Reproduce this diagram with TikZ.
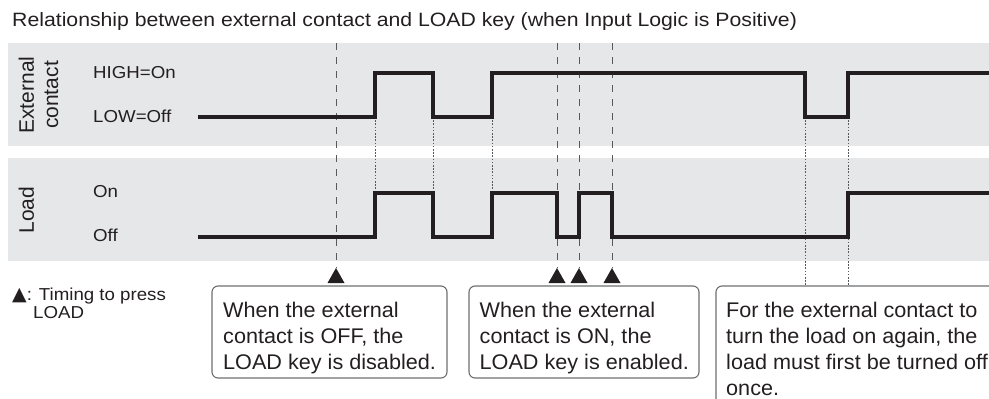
\documentclass[tikz,border=0pt]{standalone}
\usepackage{fontspec}
\setmainfont{Liberation Sans}
\newfontfamily\titlefam{Liberation Sans}[FakeStretch=1.1]
\newfontfamily\boxfam{Liberation Sans}[FakeStretch=1.02]
\newfontfamily\labfam{Liberation Sans}[FakeStretch=1.08]
\newfontfamily\symfam{DejaVu Sans}
\definecolor{bandgray}{HTML}{E6E7E8}
\definecolor{sigcol}{HTML}{231F20}
\definecolor{guidecol}{HTML}{58595B}
\definecolor{boxline}{HTML}{6D6E71}
\tikzset{
  band/.style={fill=bandgray, draw=none},
  signal/.style={draw=sigcol, line width=4.2pt, line join=miter},
  guidedash/.style={draw=guidecol, line width=0.9pt, dash pattern=on 7pt off 7pt},
  guidedot/.style={draw=guidecol, line width=0.9pt, dash pattern=on 1.6pt off 1.6pt},
  pressmark/.style={fill=sigcol, draw=none},
  notebox/.style={draw=boxline, line width=1.1pt, rounded corners=6pt},
  titletext/.style={anchor=base west, inner sep=0pt, font=\titlefam\fontsize{19.3}{23}\selectfont, text=sigcol},
  boxtext/.style={anchor=base west, inner sep=0pt, font=\boxfam\fontsize{21.2}{25}\selectfont, text=sigcol},
  levtext/.style={anchor=base west, inner sep=0pt, font=\labfam\fontsize{17.3}{20}\selectfont, text=sigcol},
  rottext/.style={anchor=base, inner sep=0pt, rotate=90, font=\fontsize{21}{24}\selectfont, text=sigcol}
}
\begin{document}
\begin{tikzpicture}[x=1pt,y=-1pt]
\useasboundingbox (0,0) rectangle (989,399);
% title
\node[titletext] (title) at (12,26.7) {Relationship between external contact and LOAD key (when Input Logic is Positive)};
% bands
\fill[band] (8,43) rectangle (989,146);
\fill[band] (8,158) rectangle (989,261);
% row labels
\node[rottext] (lext) at (34,95) {External};
\node[rottext] (lcon) at (58,95) {contact};
\node[rottext] (lload) at (34,210) {Load};
\node[levtext] (lhigh) at (93,78.5) {HIGH=On};
\node[levtext] (llow) at (93,122.5) {LOW=Off};
\node[levtext] (lon) at (93,197.5) {On};
\node[levtext] (loff) at (93,241) {Off};
% guide lines
\foreach \x in {336,557,579,612} \draw[guidedash] (\x,43) -- (\x,268);
\foreach \x in {375,433,492} \draw[guidedot] (\x,117) -- (\x,193);
\foreach \x in {805,848} \draw[guidedot] (\x,117) -- (\x,286);
% signals
\draw[signal] (198,117) -- (375,117) -- (375,73) -- (433,73) -- (433,117) -- (492,117) -- (492,73) -- (805,73) -- (805,117) -- (848,117) -- (848,73) -- (989,73);
\draw[signal] (198,237) -- (375,237) -- (375,193) -- (433,193) -- (433,237) -- (492,237) -- (492,193) -- (557,193) -- (557,237) -- (579,237) -- (579,193) -- (612,193) -- (612,237) -- (848,237) -- (848,193) -- (989,193);
% press marks
\foreach \x in {336,557,579,612} \fill[pressmark] (\x-8.5,283) -- (\x,268) -- (\x+8.5,283) -- cycle;
% legend
\node[levtext] (leg1) at (12,300) {{\symfam\fontsize{19}{20}\selectfont ▲}: Timing to press};
\node[levtext] (leg2) at (33,318) {LOAD};
% boxes
\draw[notebox] (212,286) rectangle (447,378);
\node[boxtext] (b1a) at (223,317.5) {When the external};
\node[boxtext] (b1b) at (223,343.5) {contact is OFF, the};
\node[boxtext] (b1c) at (223,369.5) {LOAD key is disabled.};
\draw[notebox] (469,286) rectangle (699,378);
\node[boxtext] (b2a) at (479.5,317.5) {When the external};
\node[boxtext] (b2b) at (479.5,343.5) {contact is ON, the};
\node[boxtext] (b2c) at (479.5,369.5) {LOAD key is enabled.};
\draw[notebox] (716,400) -- (716,286) -- (990,286);
\node[boxtext] (b3a) at (726,317.5) {For the external contact to};
\node[boxtext] (b3b) at (726,343.5) {turn the load on again, the};
\node[boxtext] (b3c) at (726,369.5) {load must first be turned off};
\node[boxtext] (b3d) at (726,395.5) {once.};
\end{tikzpicture}
\end{document}
